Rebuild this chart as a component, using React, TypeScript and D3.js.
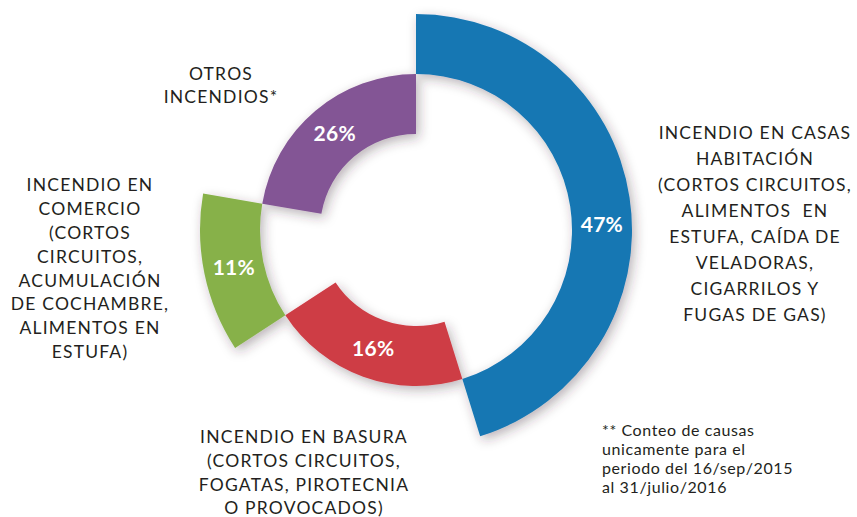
import { useEffect, useRef } from 'react'
import * as d3 from 'd3'

// slices in drawing order, clockwise from 12 o'clock
const categories = ['casas', 'basura', 'comercio', 'otros']
// angular share of each slice as drawn in the picture
const sliceShares = [45.2, 20.6, 11.9, 22.3]
// printed percentages
const percentLabels = ['47%', '16%', '11%', '26%']
// which ring band the slice reaches (1 = inner band, 2 = outer band)
const ringLevels = [2, 1, 2, 1]

const categoryLines = [
  ['INCENDIO EN CASAS', 'HABITACIÓN', '(CORTOS CIRCUITOS,', 'ALIMENTOS  EN', 'ESTUFA, CAÍDA DE', 'VELADORAS,', 'CIGARRILOS Y', 'FUGAS DE GAS)'],
  ['INCENDIO EN BASURA', '(CORTOS CIRCUITOS,', 'FOGATAS, PIROTECNIA', 'O PROVOCADOS)'],
  ['INCENDIO EN', 'COMERCIO', '(CORTOS', 'CIRCUITOS,', 'ACUMULACIÓN', 'DE COCHAMBRE,', 'ALIMENTOS EN', 'ESTUFA)'],
  ['OTROS', 'INCENDIOS*'],
]

const footnoteLines = ['** Conteo de causas', 'unicamente para el', 'periodo del 16/sep/2015', 'al 31/julio/2016']

const COLORS: Record<string, string> = {
  casas: '#1677b3',
  basura: '#ce3c45',
  comercio: '#87b14a',
  otros: '#835595',
}

// where each block of category text sits (centre x, first line y, line height)
const LABEL_LAYOUT: Record<string, { x: number; y: number; lh: number }> = {
  casas: { x: 755, y: 133, lh: 25.9 },
  basura: { x: 304, y: 437, lh: 23.7 },
  comercio: { x: 90, y: 185, lh: 23.8 },
  otros: { x: 221, y: 74, lh: 23 },
}

const FONT = 'Lato, "Open Sans", sans-serif'

export default function App() {
  const svgRef = useRef<SVGSVGElement | null>(null)

  useEffect(() => {
    if (!svgRef.current) return
    const W = 857
    const H = 517
    const cx = 416
    const cy = 230

    const svg = d3.select(svgRef.current)
    svg.selectAll('*').remove()
    svg.attr('width', W).attr('height', H).attr('viewBox', `0 0 ${W} ${H}`)

    const defs = svg.append('defs')
    const filter = defs.append('filter')
      .attr('id', 'soft-shadow')
      .attr('x', '-20%').attr('y', '-20%')
      .attr('width', '140%').attr('height', '140%')
    filter.append('feDropShadow')
      .attr('dx', 3).attr('dy', 4)
      .attr('stdDeviation', 6)
      .attr('flood-color', '#3a2a35')
      .attr('flood-opacity', 0.35)

    const radius = d3.scaleLinear().domain([0, 2]).range([96, 216])

    const data = categories.map((c, i) => ({
      key: c,
      share: sliceShares[i],
      label: percentLabels[i],
      level: ringLevels[i],
    }))

    const pie = d3.pie<typeof data[number]>().value(d => d.share).sort(null)
    const arcs = pie(data)

    const arcFor = (d: d3.PieArcDatum<typeof data[number]>) =>
      d3.arc<d3.PieArcDatum<typeof data[number]>>()
        .innerRadius(radius(d.data.level - 1))
        .outerRadius(radius(d.data.level))(d) as string

    const g = svg.append('g').attr('transform', `translate(${cx},${cy})`)

    g.append('g')
      .attr('filter', 'url(#soft-shadow)')
      .selectAll('path')
      .data(arcs)
      .join('path')
      .attr('d', arcFor)
      .attr('fill', d => COLORS[d.data.key])

    // percentage labels, centred in the band; the big slice's label sits near 3 o'clock
    const labelAngle = (d: d3.PieArcDatum<typeof data[number]>) =>
      d.data.key === 'casas' ? Math.PI * 0.49 : (d.startAngle + d.endAngle) / 2

    g.selectAll('text.pct')
      .data(arcs)
      .join('text')
      .attr('class', 'pct')
      .attr('x', d => Math.sin(labelAngle(d)) * (radius(d.data.level - 1) + radius(d.data.level)) / 2)
      .attr('y', d => -Math.cos(labelAngle(d)) * (radius(d.data.level - 1) + radius(d.data.level)) / 2)
      .attr('dy', '0.36em')
      .attr('text-anchor', 'middle')
      .attr('font-family', FONT)
      .attr('font-weight', 700)
      .attr('font-size', 21)
      .attr('letter-spacing', 0.3)
      .attr('fill', '#fff')
      .text(d => d.data.label)

    // category descriptions
    categories.forEach((c, i) => {
      const lay = LABEL_LAYOUT[c]
      const t = svg.append('text')
        .attr('text-anchor', 'middle')
        .attr('font-family', FONT)
        .attr('font-size', 17.5)
        .attr('letter-spacing', 1.2)
        .attr('fill', '#231f20')
      categoryLines[i].forEach((line, j) => {
        t.append('tspan')
          .attr('x', lay.x)
          .attr('y', lay.y + j * lay.lh)
          .attr('dy', '0.36em')
          .attr('xml:space', 'preserve')
          .text(line)
      })
    })

    const foot = svg.append('text')
      .attr('font-family', FONT)
      .attr('font-size', 16)
      .attr('letter-spacing', 0.6)
      .attr('fill', '#231f20')
    footnoteLines.forEach((line, j) => {
      foot.append('tspan')
        .attr('x', 602)
        .attr('y', 430 + j * 19)
        .attr('dy', '0.36em')
        .text(line)
    })
  }, [])

  return (
    <svg
      ref={svgRef}
      style={{ position: 'absolute', left: 0, top: 0, background: '#fff' }}
    />
  )
}
